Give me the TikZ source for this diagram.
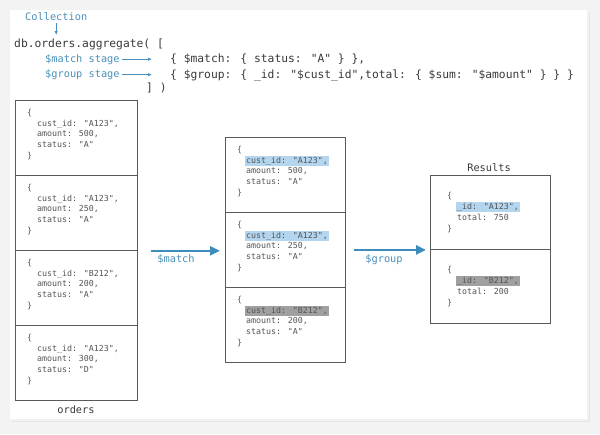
\documentclass[tikz,border=0pt]{standalone}
\usepackage{fontspec}
\newfontfamily\codefont{DejaVu Sans Mono}
\usetikzlibrary{arrows.meta,calc}
\definecolor{codegray}{HTML}{3A3A3A}
\definecolor{docgray}{HTML}{555555}
\definecolor{lblblue}{HTML}{4A90B8}
\definecolor{arrowblue}{HTML}{3C8DBC}
\definecolor{hlblue}{HTML}{B3D5EE}
\definecolor{hlgray}{HTML}{A0A0A0}
\definecolor{boxgray}{HTML}{5A5A5A}
\definecolor{bggray}{HTML}{F3F3F3}
\begin{document}
\begin{tikzpicture}[x=1pt,y=-1pt,
 code/.style={font=\codefont\fontsize{11.3}{13}\selectfont, text=codegray, anchor=base west, inner sep=0pt},
 lbl/.style={font=\codefont\fontsize{10.3}{12}\selectfont, text=lblblue, anchor=base west, inner sep=0pt},
 ttl/.style={font=\codefont\fontsize{10.3}{12}\selectfont, text=codegray, inner sep=0pt, anchor=base},
 doc/.style={font=\codefont\fontsize{8.3}{10}\selectfont, text=docgray, anchor=base west, inner sep=0pt},
 hl/.style={doc, fill=hlblue, inner xsep=1.5pt, inner ysep=1pt, xshift=-1.5pt},
 hlg/.style={doc, fill=hlgray, inner xsep=1.5pt, inner ysep=1pt, xshift=-1.5pt},
 docbox/.style={draw=boxgray, line width=0.8pt, minimum width=122pt, minimum height=75pt, inner sep=0pt, anchor=north west},
 mbox/.style={docbox, minimum width=120pt},
 rbox/.style={docbox, minimum width=120pt, minimum height=74pt},
 bigarrow/.style={draw=arrowblue, line width=2.6pt, -{Triangle[length=10pt,width=9pt]}},
 smallarrow/.style={draw=lblblue, line width=0.7pt, -{Latex[length=4pt,width=3.5pt]}},
]
\useasboundingbox (0,0) rectangle (600,434);
\fill[bggray] (0,0) rectangle (600,434);
\fill[black!10] (12,12) rectangle (590,422);
\fill[black!5] (9,9) rectangle (589,421);
\fill[white] (10,10) rectangle (587,419);

% header code
\node[lbl] (coll) at (25,20) {Collection};
\node[code] (db) at (14,47) {db.orders.aggregate( [};
\node[lbl] (ms) at (45,62) {\$match stage};
\node[lbl] (gs) at (45,77.5) {\$group stage};
\node[code] (mc) at (170,62.5) {\{ \$match: \{ status: "A" \} \},};
\node[code] (gc) at (170,78) {\{ \$group: \{ \_id: "\$cust\_id",total: \{ \$sum: "\$amount" \} \} \}};
\node[code] (close) at (146,91) {] )};
\draw[smallarrow, shorten <=2.5pt] (coll.south) -- (coll.south |- 0,35);
\draw[smallarrow] ([xshift=2pt]ms.east) -- ([xshift=-18pt]ms.east -| mc.west);
\draw[smallarrow] ([xshift=2pt]gs.east) -- ([xshift=-18pt]gs.east -| gc.west);

% orders collection
\node[docbox] (ob1) at (15,100) {};
\node[docbox] (ob2) at (15,175) {};
\node[docbox] (ob3) at (15,250) {};
\node[docbox] (ob4) at (15,325) {};
\foreach \n/\y/\c/\a/\s in {1/100/A123/500/A, 2/175/A123/250/A, 3/250/B212/200/A, 4/325/A123/300/D}{
  \node[doc] (ob\n-o) at (27,\y+15) {\{};
  \node[doc] (ob\n-c) at (37,\y+26) {cust\_id: "\c",};
  \node[doc] (ob\n-a) at (37,\y+36.5) {amount: \a,};
  \node[doc] (ob\n-s) at (37,\y+47) {status: "\s"};
  \node[doc] (ob\n-e) at (27,\y+58) {\}};
}
\node[ttl] (ordtitle) at (76,413) {orders};

% matched documents
\node[mbox] (mb1) at (225,137) {};
\node[mbox] (mb2) at (225,212) {};
\node[mbox] (mb3) at (225,287) {};
\foreach \n/\y/\c/\a/\h in {1/137/A123/500/hl, 2/212/A123/250/hl, 3/287/B212/200/hlg}{
  \node[doc] (mb\n-o) at (237,\y+15) {\{};
  \node[\h] (mb\n-c) at (246,\y+26) {cust\_id: "\c",};
  \node[doc] (mb\n-a) at (246,\y+36.5) {amount: \a,};
  \node[doc] (mb\n-s) at (246,\y+47) {status: "A"};
  \node[doc] (mb\n-e) at (237,\y+58) {\}};
}

% results
\node[ttl] (restitle) at (489,171) {Results};
\node[rbox] (rb1) at (430,175) {};
\node[rbox] (rb2) at (430,249) {};
\foreach \n/\y/\c/\t/\h in {1/175/A123/750/hl, 2/249/B212/200/hlg}{
  \node[doc] (rb\n-o) at (447,\y+23) {\{};
  \node[\h] (rb\n-c) at (457,\y+34) {\_id: "\c",};
  \node[doc] (rb\n-t) at (457,\y+45) {total: \t};
  \node[doc] (rb\n-e) at (447,\y+56) {\}};
}

% stage arrows
\draw[bigarrow] ([xshift=13pt]ob2.south east) -- ([xshift=-5pt]ob2.south east -| mb2.west);
\node[lbl, anchor=base] (matchlbl) at (176,262) {\$match};
\draw[bigarrow] ([xshift=8pt]mb2.east) -- ([xshift=-4pt]mb2.east -| rb1.west);
\node[lbl, anchor=base] (grouplbl) at (384,262) {\$group};
\end{tikzpicture}
\end{document}
